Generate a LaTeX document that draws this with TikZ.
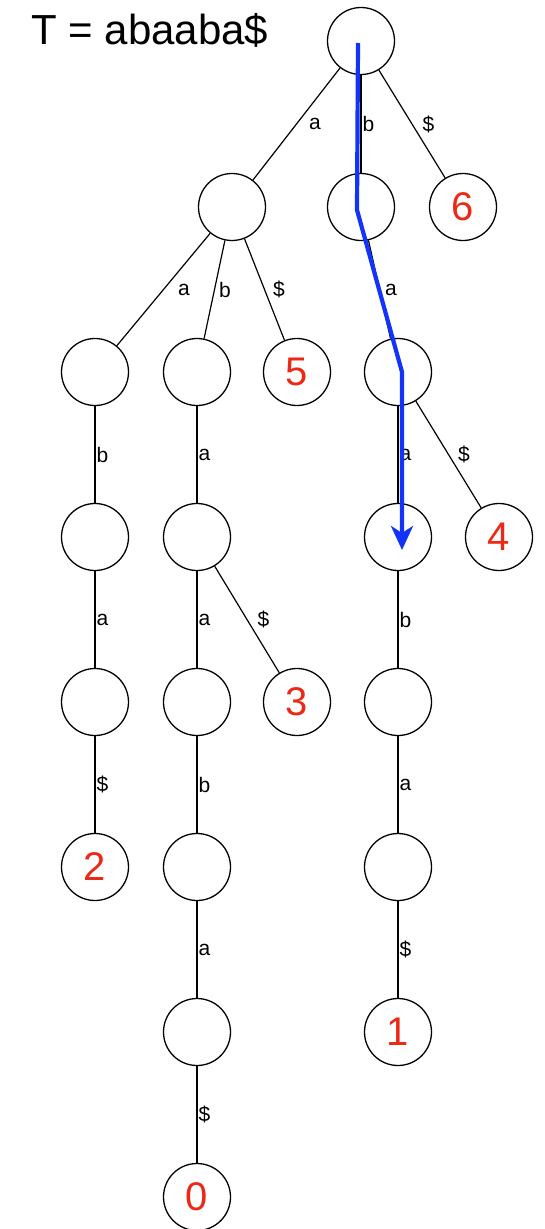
\documentclass[tikz,border=0pt]{standalone}
\usepackage{fontspec}
\setmainfont{Liberation Sans}
\usetikzlibrary{arrows.meta}
\definecolor{walkblue}{RGB}{18,52,250}
\definecolor{leafred}{RGB}{236,40,22}
\tikzset{
	trienode/.style={circle, draw, line width=1.3pt, minimum size=67pt, inner sep=0pt},
	leafnode/.style={trienode, text=leafred, font=\fontsize{40}{40}\selectfont},
	edgelbl/.style={anchor=west, inner sep=1pt, font=\fontsize{21}{21}\selectfont},
	trieedge/.style={line width=1.2pt},
}

\begin{document}
\begin{tikzpicture}[x=1pt, y=-1pt]
		%%%%% START %%%%%
		\useasboundingbox (0, 0) rectangle (544, 1229);
		
		\node[anchor=base west, inner sep=0pt, font=\fontsize{42}{42}\selectfont] (title) at (31, 44) {T = abaaba\$};
		
		\node[trienode] (root) at (361, 41) {};
		
		\node[trienode] (na) at (232, 207) {};
		\node[trienode] (nb) at (361, 207) {};
		\node[leafnode] (leaf6) at (463, 207) {6};
		
		\node[trienode] (naa) at (95, 372) {};
		\node[trienode] (nab) at (197, 372) {};
		\node[leafnode] (leaf5) at (297, 372) {5};
		\node[trienode] (nba) at (398, 372) {};
		
		\node[trienode] (naab) at (95, 537) {};
		\node[trienode] (naba) at (197, 537) {};
		\node[trienode] (nbaa) at (398, 537) {};
		\node[leafnode] (leaf4) at (499, 537) {4};
		
		\node[trienode] (naaba) at (95, 702) {};
		\node[trienode] (nabaa) at (197, 702) {};
		\node[leafnode] (leaf3) at (297, 702) {3};
		\node[trienode] (nbaab) at (398, 702) {};
		
		\node[leafnode] (leaf2) at (95, 867) {2};
		\node[trienode] (nabaab) at (197, 867) {};
		\node[trienode] (nbaaba) at (398, 867) {};
		
		\node[trienode] (nabaaba) at (197, 1032) {};
		\node[leafnode] (leaf1) at (398, 1032) {1};
		
		\node[leafnode] (leaf0) at (197, 1197) {0};
		
		% edges of the suffix trie
		\draw[trieedge] (root) -- node[edgelbl, xshift=11pt] {a} (na);
		\draw[trieedge] (root) -- node[edgelbl] {b} (nb);
		\draw[trieedge] (root) -- node[edgelbl, xshift=9pt] {\$} (leaf6);
		
		\draw[trieedge] (na) -- node[edgelbl, xshift=13pt] {a} (naa);
		\draw[trieedge] (na) -- node[edgelbl, xshift=3pt] {b} (nab);
		\draw[trieedge] (na) -- node[edgelbl, xshift=7pt] {\$} (leaf5);
		\draw[trieedge] (nb) -- node[edgelbl, xshift=4pt] {a} (nba);
		
		\draw[trieedge] (naa) -- node[edgelbl] {b} (naab);
		\draw[trieedge] (nab) -- node[edgelbl] {a} (naba);
		\draw[trieedge] (nba) -- node[edgelbl] {a} (nbaa);
		\draw[trieedge] (nba) -- node[edgelbl, xshift=8pt] {\$} (leaf4);
		
		\draw[trieedge] (naab) -- node[edgelbl] {a} (naaba);
		\draw[trieedge] (naba) -- node[edgelbl] {a} (nabaa);
		\draw[trieedge] (naba) -- node[edgelbl, xshift=9pt] {\$} (leaf3);
		\draw[trieedge] (nbaa) -- node[edgelbl] {b} (nbaab);
		
		\draw[trieedge] (naaba) -- node[edgelbl] {\$} (leaf2);
		\draw[trieedge] (nabaa) -- node[edgelbl] {b} (nabaab);
		\draw[trieedge] (nbaab) -- node[edgelbl] {a} (nbaaba);
		
		\draw[trieedge] (nabaab) -- node[edgelbl] {a} (nabaaba);
		\draw[trieedge] (nbaaba) -- node[edgelbl] {\$} (leaf1);
		
		\draw[trieedge] (nabaaba) -- node[edgelbl] {\$} (leaf0);
		
		% search for "baa"
		\coordinate (walk0) at (358, 43);
		\coordinate (walk1) at (357, 210);
		\coordinate (walk2) at (402, 372);
		\coordinate (walk3) at (402, 550);
		\draw[walkblue, line width=4.2pt, -{Stealth[length=24pt, width=22pt, inset=7pt]}] (walk0) -- (walk1) -- (walk2) -- (walk3);
		
		%%%%% END %%%%%
	\end{tikzpicture}
\end{document}
